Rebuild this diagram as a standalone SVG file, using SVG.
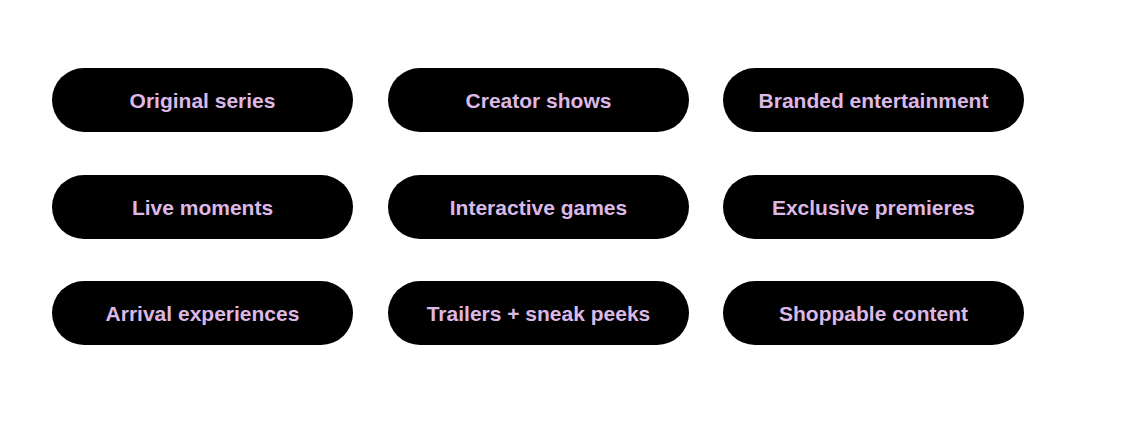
<svg xmlns="http://www.w3.org/2000/svg" width="1142" height="426" viewBox="0 0 1142 426">
<style>
.p{fill:#000}
.t{fill:#dcb8e6;font-family:"Liberation Sans",Arial,sans-serif;font-weight:bold;font-size:21px;text-anchor:middle;dominant-baseline:central}
</style>
<rect width="1142" height="426" fill="#fff"/>
<g id="n1"><rect class="p" x="52" y="68" width="301" height="64" rx="32"/><text class="t" x="202.5" y="100">Original series</text></g>
<g id="n2"><rect class="p" x="388" y="68" width="301" height="64" rx="32"/><text class="t" x="538.5" y="100">Creator shows</text></g>
<g id="n3"><rect class="p" x="723" y="68" width="301" height="64" rx="32"/><text class="t" x="873.5" y="100">Branded entertainment</text></g>
<g id="n4"><rect class="p" x="52" y="175" width="301" height="64" rx="32"/><text class="t" x="202.5" y="207">Live moments</text></g>
<g id="n5"><rect class="p" x="388" y="175" width="301" height="64" rx="32"/><text class="t" x="538.5" y="207">Interactive games</text></g>
<g id="n6"><rect class="p" x="723" y="175" width="301" height="64" rx="32"/><text class="t" x="873.5" y="207">Exclusive premieres</text></g>
<g id="n7"><rect class="p" x="52" y="281" width="301" height="64" rx="32"/><text class="t" x="202.5" y="313">Arrival experiences</text></g>
<g id="n8"><rect class="p" x="388" y="281" width="301" height="64" rx="32"/><text class="t" x="538.5" y="313">Trailers + sneak peeks</text></g>
<g id="n9"><rect class="p" x="723" y="281" width="301" height="64" rx="32"/><text class="t" x="873.5" y="313">Shoppable content</text></g>
<g id="connectors"/>
</svg>
